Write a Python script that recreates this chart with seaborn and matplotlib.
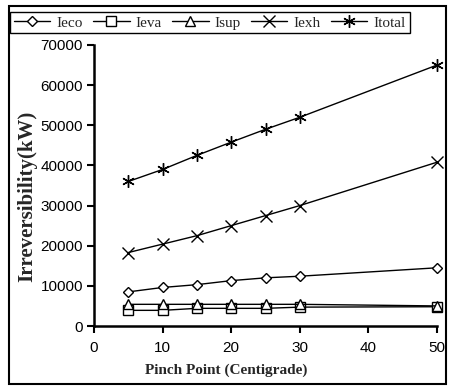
import numpy as np
import pandas as pd
import matplotlib
matplotlib.use("Agg")
import matplotlib.pyplot as plt
import seaborn as sns
from matplotlib.patches import Rectangle

pinch = [5, 10, 15, 20, 25, 30, 50]
ieco = [8500, 9600, 10300, 11300, 12000, 12400, 14500]
ieva = [3900, 3900, 4400, 4400, 4400, 4700, 4800]
isup = [5400, 5400, 5400, 5400, 5400, 5400, 5000]
iexh = [18300, 20400, 22500, 25000, 27500, 30000, 40800]
itotal = [36000, 39000, 42500, 45800, 49000, 52000, 65000]

series = [
    ("Ieco", ieco, "D", 5),
    ("Ieva", ieva, "s", 7),
    ("Isup", isup, "^", 7),
    ("Iexh", iexh, "x", 8),
    ("Itotal", itotal, (6, 2, 0), 9),
]

sns.set_theme(style="ticks")
plt.rcParams["font.family"] = ["Liberation Sans", "DejaVu Sans"]

fig = plt.figure(figsize=(4.53, 3.92), dpi=100)
ax = fig.add_axes([94 / 453, 66 / 392, (437 - 94) / 453, (326 - 45) / 392])

for name, vals, mk, ms in series:
    df = pd.DataFrame({"x": pinch, "y": vals})
    sns.lineplot(data=df, x="x", y="y", ax=ax, color="black", lw=1.0,
                 marker=mk, markersize=ms, markerfacecolor="white",
                 markeredgecolor="black", markeredgewidth=1.0, label=name,
                 clip_on=False)

ax.set_xlim(0, 50)
ax.set_ylim(0, 70000)
ax.set_xticks(range(0, 51, 10))
ax.set_yticks(range(0, 70001, 10000))
ax.tick_params(axis="both", direction="out", length=5, width=1.5, color="black",
               labelsize=11, labelcolor="black")
ax.tick_params(axis="x", pad=6)
ax.tick_params(axis="y", pad=3)
for s in ["top", "right"]:
    ax.spines[s].set_visible(False)
for s in ["left", "bottom"]:
    ax.spines[s].set_linewidth(1.8)
    ax.spines[s].set_color("black")

ax.set_xlabel("Pinch Point (Centigrade)", family=["Liberation Serif"],
              fontweight="bold", fontsize=11, labelpad=3)
ax.xaxis.set_label_coords(0.385, -0.135)
ax.set_ylabel("Irreversibility(kW)", family=["Liberation Serif"],
              fontweight="bold", fontsize=15)
ax.yaxis.set_label_coords(-0.165, 0.46)

handles, labels = ax.get_legend_handles_labels()
ax.get_legend().remove()
fig.legend(handles, labels, ncol=5, loc="upper left",
           bbox_to_anchor=(10 / 453, 1 - 12 / 392),
           prop={"family": "Liberation Serif", "size": 11},
           frameon=True, fancybox=False, edgecolor="black", framealpha=1,
           handlelength=2.4, handletextpad=0.4, columnspacing=0.65,
           borderpad=0.25, borderaxespad=0)

fig.patches.append(Rectangle((9 / 453, 8 / 392), (446 - 9) / 453, (386 - 8) / 392,
                             transform=fig.transFigure, fill=False,
                             edgecolor="black", lw=1.5))

fig.savefig("out.png", dpi=100)
